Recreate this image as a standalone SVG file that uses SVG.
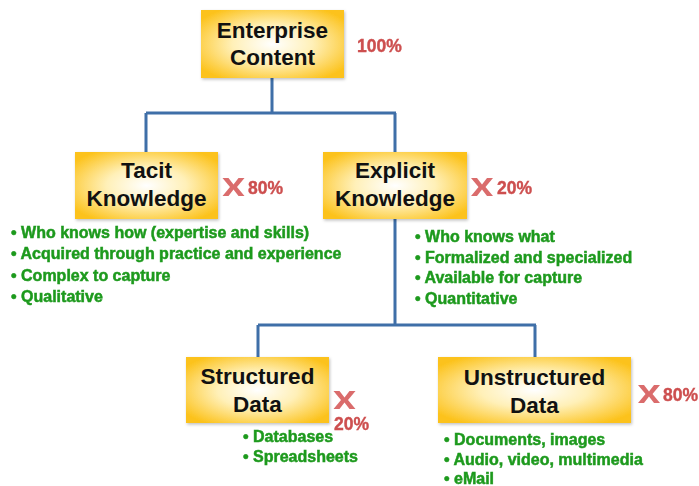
<svg xmlns="http://www.w3.org/2000/svg" width="699" height="486" viewBox="0 0 699 486">
<defs>
<radialGradient id="boxg" cx="0.5" cy="0.5" r="0.62">
<stop offset="0" stop-color="#ffffff"/>
<stop offset="0.45" stop-color="#fff0b8"/>
<stop offset="1" stop-color="#fcc21a"/>
</radialGradient>
<filter id="sh" x="-10%" y="-10%" width="125%" height="130%">
<feDropShadow dx="1" dy="1.5" stdDeviation="1.5" flood-color="#000" flood-opacity="0.25"/>
</filter>
<filter id="soft" x="-5%" y="-20%" width="110%" height="140%">
<feGaussianBlur stdDeviation="0.35"/>
</filter>
<path id="xm" d="M-11,-9 L-5,-9 L0,-2.5 L5,-9 L11,-9 L3.5,0 L11,9 L5,9 L0,2.5 L-5,9 L-11,9 L-3.5,0 Z"/>
</defs>
<style>
.box{fill:url(#boxg);filter:url(#sh);}
.title{font-family:"Liberation Sans",Arial,sans-serif;font-weight:bold;font-size:22.5px;fill:#111;text-anchor:middle;}
.pct{font-family:"Liberation Sans",Arial,sans-serif;font-weight:bold;font-size:17.5px;fill:#cd4f4f;stroke:#cd4f4f;stroke-width:0.4;filter:url(#soft);}
.xm{fill:#d35252;opacity:0.85;}
.bul{font-family:"Liberation Sans",Arial,sans-serif;font-weight:bold;font-size:16px;fill:#1f9a1f;stroke:#1f9a1f;stroke-width:0.5;filter:url(#soft);}
.conn{stroke:#3f6fa8;stroke-width:3;fill:none;}
</style>
<rect width="699" height="486" fill="#ffffff"/>
<g id="connectors">
<path class="conn" d="M272,78 V113 M146,113 H396 M146,113 V152 M395,113 V152"/>
<path class="conn" d="M395,219 V325 M258,325 H536 M258,325 V357 M535,325 V357"/>
</g>
<g id="enterprise-content">
<rect class="box" x="201" y="10" width="143" height="68"/>
<text class="title" x="272.5" y="38">Enterprise</text>
<text class="title" x="272.5" y="65">Content</text>
<text class="pct" x="357" y="52">100%</text>
</g>
<g id="tacit-knowledge">
<rect class="box" x="75" y="152" width="143" height="67"/>
<text class="title" x="146.5" y="178">Tacit</text>
<text class="title" x="146.5" y="206">Knowledge</text>
<use href="#xm" class="xm" transform="translate(233.5,187)"/>
<text class="pct" x="248" y="194">80%</text>
<text class="bul" x="11" y="238">• Who knows how (expertise and skills)</text>
<text class="bul" x="11" y="259">• Acquired through practice and experience</text>
<text class="bul" x="11" y="281">• Complex to capture</text>
<text class="bul" x="11" y="302">• Qualitative</text>
</g>
<g id="explicit-knowledge">
<rect class="box" x="323" y="152" width="144" height="67"/>
<text class="title" x="395" y="178">Explicit</text>
<text class="title" x="395" y="206">Knowledge</text>
<use href="#xm" class="xm" transform="translate(482,187)"/>
<text class="pct" x="497" y="194">20%</text>
<text class="bul" x="415" y="242">• Who knows what</text>
<text class="bul" x="415" y="263">• Formalized and specialized</text>
<text class="bul" x="415" y="283">• Available for capture</text>
<text class="bul" x="415" y="304">• Quantitative</text>
</g>
<g id="structured-data">
<rect class="box" x="186" y="357" width="143" height="66"/>
<text class="title" x="257.5" y="384">Structured</text>
<text class="title" x="257.5" y="412">Data</text>
<use href="#xm" class="xm" transform="translate(344.5,400)"/>
<text class="pct" x="334" y="430">20%</text>
<text class="bul" x="243" y="442">• Databases</text>
<text class="bul" x="243" y="462">• Spreadsheets</text>
</g>
<g id="unstructured-data">
<rect class="box" x="438" y="357" width="193" height="66"/>
<text class="title" x="534.5" y="385">Unstructured</text>
<text class="title" x="534.5" y="413">Data</text>
<use href="#xm" class="xm" transform="translate(649,394)"/>
<text class="pct" x="663" y="401">80%</text>
<text class="bul" x="444" y="445">• Documents, images</text>
<text class="bul" x="444" y="465">• Audio, video, multimedia</text>
<text class="bul" x="444" y="484">• eMail</text>
</g>
</svg>
